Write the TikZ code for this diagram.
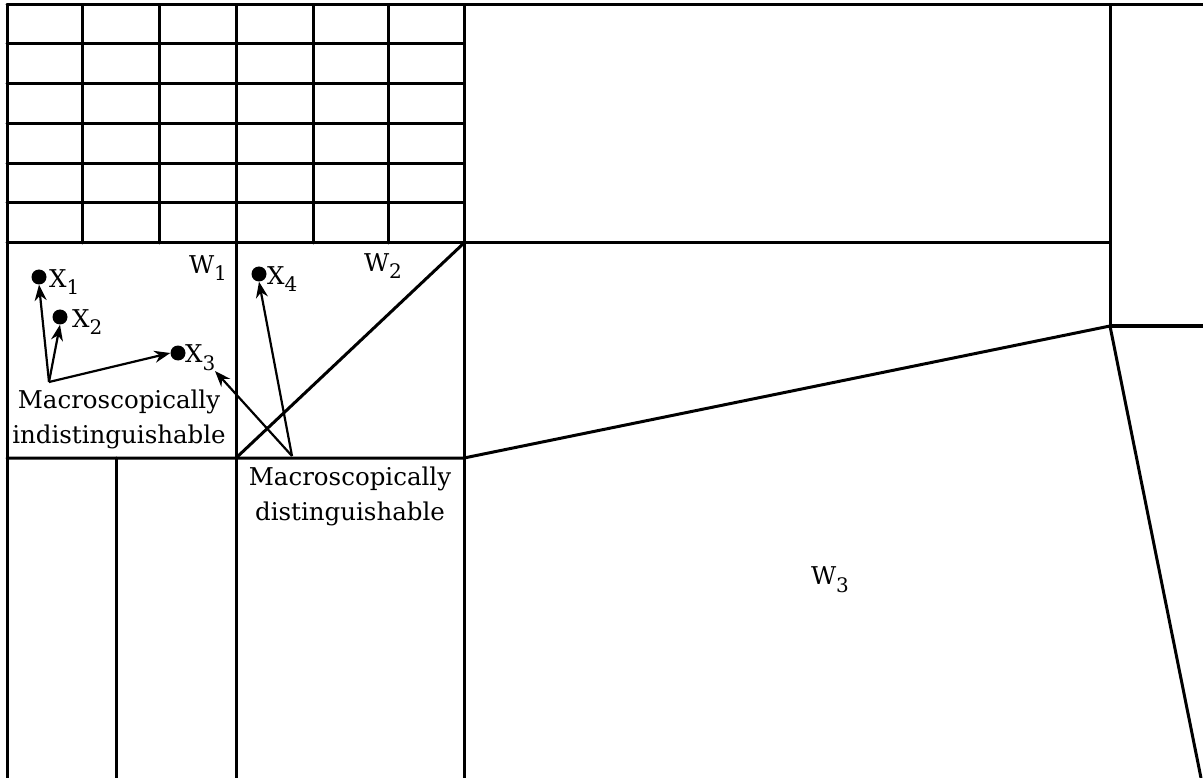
\documentclass[tikz,border=0pt]{standalone}
\usepackage{fontspec}
\setmainfont{DejaVu Serif}
\usetikzlibrary{arrows.meta}
\newcommand{\sbs}[1]{\raisebox{-0.32em}{\fontsize{20}{20}\selectfont #1}}
\tikzset{
  wall/.style={line width=3pt, line cap=round, line join=round},
  dotnode/.style={circle, fill=black, inner sep=0pt, minimum size=15pt},
  lbl/.style={font=\fontsize{24.5}{35}\selectfont, inner sep=1pt},
  ptr/.style={line width=2.2pt, -{Stealth[length=16pt,width=12pt]}}
}
\begin{document}
\begin{tikzpicture}[x=1pt,y=-1pt]
\useasboundingbox (0,0) rectangle (1203,778);
% grid
\foreach \yy in {5,44,84,124,164,203} \draw[wall] (7,\yy) -- (464,\yy);
\foreach \xx in {82,159,313,388} \draw[wall] (\xx,5) -- (\xx,243);
\draw[wall] (464,5) -- (1203,5);
\draw[wall] (7,5) -- (7,778);
\draw[wall] (236,5) -- (236,778);
\draw[wall] (464,5) -- (464,778);
\draw[wall] (7,243) -- (1110,243);
\draw[wall] (1110,5) -- (1110,326) -- (1203,326);
\draw[wall] (7,458) -- (464,458) -- (1110,326) -- (1201,778);
\draw[wall] (116,458) -- (116,778);
\draw[wall] (236,458) -- (464,243);
% labels
\node[lbl] (w1) at (208,268) {W\sbs{1}};
\node[lbl] (w2) at (383,266) {W\sbs{2}};
\node[lbl] (w3) at (830,580) {W\sbs{3}};
% points
\node[dotnode] (x1) at (39,277) {};
\node[dotnode] (x2) at (60,317) {};
\node[dotnode] (x3) at (178,353) {};
\node[dotnode] (x4) at (259,274) {};
\node[lbl, anchor=west] (lx1) at (48,282) {X\sbs{1}};
\node[lbl, anchor=west] (lx2) at (71,322) {X\sbs{2}};
\node[lbl, anchor=west] (lx3) at (184,358) {X\sbs{3}};
\node[lbl, anchor=west] (lx4) at (266,279) {X\sbs{4}};
% texts
\node[lbl, align=center] (ind) at (119,419) {Macroscopically\\indistinguishable};
\node[lbl, align=center] (dis) at (350,496) {Macroscopically\\distinguishable};
% arrows
\coordinate (s1) at (49,382);
\coordinate (s2) at (292,456);
\draw[ptr] (s1) -- (x1.south);
\draw[ptr] (s1) -- (x2.south);
\draw[ptr] (s1) -- (x3.west);
\draw[ptr] (s2) -- (215,371);
\draw[ptr] (s2) -- (x4.south);
\end{tikzpicture}
\end{document}
